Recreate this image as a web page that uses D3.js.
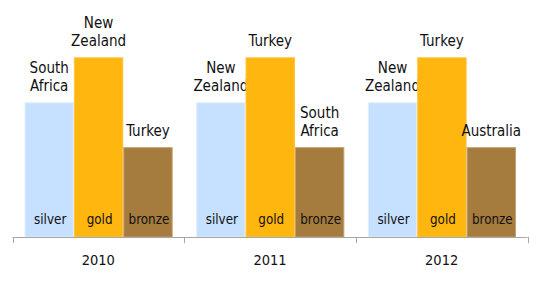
<!DOCTYPE html>
<html><head><meta charset="utf-8">
<script src="https://cdn.jsdelivr.net/npm/d3@7"></script>
<style>body{margin:0;background:#fff}svg{display:block}text{font-family:"DejaVu Sans Condensed","DejaVu Sans",Verdana,sans-serif;font-stretch:condensed;fill:#111}</style>
</head><body>
<svg id="c" width="540" height="283"></svg>
<script>
const years = ["2010", "2011", "2012"];
const medals = ["silver", "gold", "bronze"];
const medalValues = [3, 4, 2];
const countries2010 = ["South\nAfrica", "New\nZealand", "Turkey"];
const countries2011 = ["New\nZealand", "Turkey", "South\nAfrica"];
const countries2012 = ["New\nZealand", "Turkey", "Australia"];
const countriesByYear = [countries2010, countries2011, countries2012];
const fills = ["#C6E0FF", "#FFB60F", "#A67C3E"];
const strokes = ["#E2EFFF", "#FFC23A", "#C4A070"];

const svg = d3.select("#c");
const base = 237;
const x0 = d3.scaleBand().domain(years).range([12.5, 527.5]).paddingInner(0).paddingOuter(0);
const bw = x0.bandwidth();
const x1 = d3.scaleBand().domain(medals).range([12, bw - 11.5]).padding(0);
const y = d3.scaleLinear().domain([0, 4]).range([base, 57.3]);
const color = d3.scaleOrdinal().domain(medals).range(fills);
const strokeC = d3.scaleOrdinal().domain(medals).range(strokes);

const data = [];
years.forEach((yr, i) => medals.forEach((m, j) => data.push({year: yr, medal: m, value: medalValues[j], country: countriesByYear[i][j]})));

const g = svg.selectAll("g.bar").data(data).enter().append("g");
g.append("rect")
  .attr("x", d => x0(d.year) + x1(d.medal) + 0.5)
  .attr("y", d => y(d.value) + 0.5)
  .attr("width", x1.bandwidth() - 1)
  .attr("height", d => base - y(d.value) - 0.5)
  .attr("fill", d => color(d.medal))
  .attr("stroke", d => strokeC(d.medal))
  .attr("stroke-width", 1);

g.append("text")
  .attr("x", d => x0(d.year) + x1(d.medal) + x1.bandwidth() / 2 + 1)
  .attr("y", 224)
  .attr("text-anchor", "middle")
  .style("font-size", "13.3px")
  .text(d => d.medal);

g.each(function(d) {
  const lines = d.country.split("\n");
  const cx = x0(d.year) + x1(d.medal) + x1.bandwidth() / 2;
  const t = d3.select(this).append("text").attr("text-anchor", "middle").style("font-size", "15px");
  lines.forEach((ln, k) => {
    t.append("tspan").attr("x", cx).attr("y", y(d.value) - 11 - (lines.length - 1 - k) * 18).text(ln);
  });
});

// axis
const axisColor = "#A6A6A6";
svg.append("line").attr("x1", 12.5).attr("x2", 527.5).attr("y1", base + 0.5).attr("y2", base + 0.5).attr("stroke", axisColor);
const ticks = years.map(yr => x0(yr)).concat([x0(years[years.length - 1]) + bw]);
svg.selectAll("line.tick").data(ticks).enter().append("line")
  .attr("x1", d => Math.round(d) + 0.5).attr("x2", d => Math.round(d) + 0.5)
  .attr("y1", base).attr("y2", base + 6).attr("stroke", axisColor);
svg.selectAll("text.year").data(years).enter().append("text")
  .attr("x", d => x0(d) + bw / 2).attr("y", 265)
  .attr("text-anchor", "middle").style("font-size", "14.5px").text(d => d);
</script>
</body></html>
